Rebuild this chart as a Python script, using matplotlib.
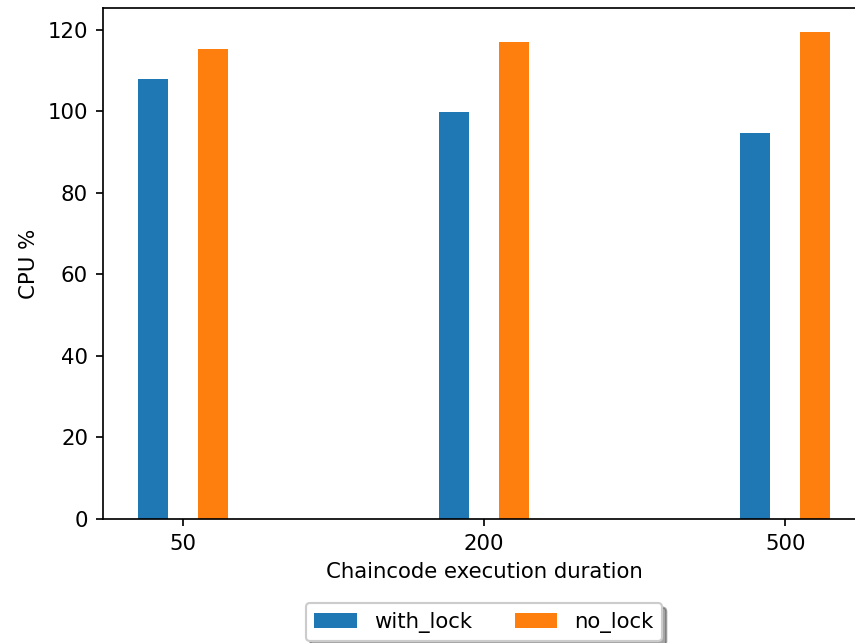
import matplotlib
matplotlib.use("Agg")
import matplotlib.pyplot as plt
import numpy as np

durations = ["50", "200", "500"]
with_lock = [108.0, 99.8, 94.6]
no_lock = [115.2, 117.1, 119.4]

dpi = 153
fig = plt.figure(figsize=(855 / dpi, 643 / dpi), dpi=dpi)
# axes extend slightly past the right edge, like the cropped original
ax = fig.add_axes([103 / 855, 124 / 643, 762 / 855, 511 / 643])

x = np.arange(len(durations))
width = 0.1
ax.bar(x - width, with_lock, width, label="with_lock")
ax.bar(x + width, no_lock, width, label="no_lock")

ax.set_xticks(x)
ax.set_xticklabels(durations)
ax.set_xlabel("Chaincode execution duration")
ax.set_ylabel("CPU %")
ax.legend(loc="upper center", bbox_to_anchor=(0.5, -0.144), ncol=2,
          shadow=True, fancybox=True)

fig.savefig("out.png", dpi=dpi)
